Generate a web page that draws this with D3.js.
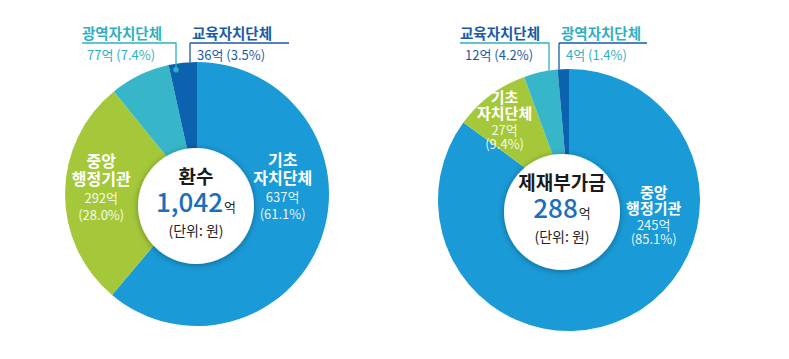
<!DOCTYPE html>
<html>
<head>
<meta charset="utf-8">
<script src="https://cdn.jsdelivr.net/npm/d3@7"></script>
<style>
  html, body { margin: 0; padding: 0; background: #fff; }
  svg { display: block; font-family: "Noto Sans CJK KR", "Noto Sans", sans-serif; }
</style>
</head>
<body>
<svg id="chart" width="789" height="359"></svg>
<script>
// left donut: 환수
const refundNames = ["기초\n자치단체", "중앙\n행정기관", "광역자치단체", "교육자치단체"];
const refundValues = [637, 292, 77, 36];
const refundPercents = [61.1, 28.0, 7.4, 3.5];
const refundColors = ["#1a9ad7", "#a5c83a", "#36b6c8", "#0b62ae"];

// right donut: 제재부가금
const penaltyNames = ["중앙\n행정기관", "기초\n자치단체", "교육자치단체", "광역자치단체"];
const penaltyValues = [245, 27, 12, 4];
const penaltyPercents = [85.1, 9.4, 4.2, 1.4];
const penaltyColors = ["#1a9ad7", "#a5c83a", "#36b6c8", "#0b62ae"];

const tealText = "#2fb0c2";
const darkText = "#1a5aa6";

const charts = [
  {
    title: "환수", total: "1,042",
    names: refundNames, values: refundValues, pcts: refundPercents, colors: refundColors,
    cx: 197, cy: 194, r: 132, hole: { dx: -1, dy: 12, r: 58 },
    // inside labels: polar [angle deg clockwise from top, radius]
    inside: { 0: [85, 86], 1: [-86, 96] },
    insideGap: [18, 18, 17],
    // callouts: title x, line end x (vertical), label colour, line colour
    callouts: {
      2: { x: 82, lineTo: 176, text: tealText, line: tealText, dot: true, anchorLeft: false },
      3: { x: 190, lineTo: 289, text: darkText, line: darkText, dot: false, anchorLeft: true }
    }
  },
  {
    title: "제재부가금", total: "288",
    names: penaltyNames, values: penaltyValues, pcts: penaltyPercents, colors: penaltyColors,
    cx: 569, cy: 200, r: 131, hole: { dx: -7, dy: 12, r: 58 },
    inside: { 0: [100, 86], 1: [-38.7, 103] },
    insideGap: [16, 16, 14],
    callouts: {
      2: { x: 460, lineTo: 549, text: darkText, line: tealText, dot: false, anchorLeft: false },
      3: { x: 559, lineTo: 647, text: tealText, line: darkText, dot: false, anchorLeft: true }
    }
  }
];

const svg = d3.select("#chart");

const defs = svg.append("defs");
const shadow = defs.append("filter").attr("id", "holeShadow")
  .attr("x", "-30%").attr("y", "-30%").attr("width", "160%").attr("height", "160%");
shadow.append("feDropShadow")
  .attr("dx", 0).attr("dy", 1).attr("stdDeviation", 3)
  .attr("flood-color", "#000").attr("flood-opacity", 0.35);

const pie = d3.pie().sort(null).value((d) => d.value);

charts.forEach((c) => {
  const rows = c.values.map((v, i) => ({
    name: c.names[i], value: v, pct: c.pcts[i], color: c.colors[i], i
  }));
  const arcs = pie(rows);
  const arc = d3.arc().innerRadius(0).outerRadius(c.r);

  const g = svg.append("g").attr("transform", `translate(${c.cx},${c.cy})`);

  g.selectAll("path.slice")
    .data(arcs)
    .join("path")
    .attr("class", "slice")
    .attr("d", arc)
    .attr("fill", (d) => d.data.color);

  // white centre
  g.append("circle")
    .attr("cx", c.hole.dx).attr("cy", c.hole.dy).attr("r", c.hole.r)
    .attr("fill", "#fff")
    .attr("filter", "url(#holeShadow)");

  const hx = c.hole.dx;
  const hy = c.hole.dy;
  g.append("text")
    .attr("x", hx).attr("y", hy - 22)
    .attr("text-anchor", "middle")
    .attr("font-size", 19).attr("font-weight", 700).attr("fill", "#1a1a1a")
    .text(c.title);
  const tot = g.append("text")
    .attr("x", hx).attr("y", hy + 6)
    .attr("text-anchor", "middle")
    .attr("fill", "#1b6fbd");
  tot.append("tspan").attr("font-size", 26).attr("font-weight", 500).text(c.total);
  tot.append("tspan").attr("font-size", 13).attr("fill", "#222").attr("dx", 1).text("억");
  g.append("text")
    .attr("x", hx).attr("y", hy + 30)
    .attr("text-anchor", "middle")
    .attr("font-size", 14).attr("fill", "#222")
    .text("(단위: 원)");

  // labels inside the big slices
  arcs.forEach((d) => {
    const pos = c.inside[d.index];
    if (!pos) return;
    const a = (pos[0] * Math.PI) / 180;
    const x = Math.sin(a) * pos[1];
    const y = -Math.cos(a) * pos[1];
    const lines = d.data.name.split("\n");
    const t = g.append("text").attr("text-anchor", "middle").attr("fill", "#fff");
    const gap = c.insideGap;
    const all = [
      { s: lines[0], bold: true },
      { s: lines[1], bold: true },
      { s: `${d.data.value}억`, bold: false },
      { s: `(${d.data.pct.toFixed(1)}%)`, bold: false }
    ];
    let yy = y - (gap[0] + gap[1] + gap[2]) / 2 + 6;
    all.forEach((ln, k) => {
      t.append("tspan")
        .attr("x", x).attr("y", yy)
        .attr("font-size", ln.bold ? (c.insideGap[0] > 16 ? 16 : 15) : 13)
        .attr("font-weight", ln.bold ? 700 : 400)
        .attr("fill-opacity", ln.bold ? 1 : 0.92)
        .text(ln.s);
      if (k < 3) yy += gap[k];
    });
  });

  // callouts above the chart for small slices
  arcs.forEach((d) => {
    const co = c.callouts[d.index];
    if (!co) return;
    const x0 = co.x - c.cx;
    const lineY = 43 - c.cy;
    const vx = co.anchorLeft ? x0 : co.lineTo - c.cx;
    const edgeY = -Math.sqrt(c.r * c.r - vx * vx);
    const endY = co.dot ? edgeY + 6 : edgeY;
    g.append("path")
      .attr("d", `M${x0},${lineY}H${co.lineTo - c.cx}`
        + (co.anchorLeft ? `M${x0},${lineY}V${endY}` : `V${endY}`))
      .attr("fill", "none")
      .attr("stroke", co.line)
      .attr("stroke-width", 1.3);
    if (co.dot) {
      g.append("circle")
        .attr("cx", vx).attr("cy", endY).attr("r", 2.8)
        .attr("fill", co.line);
    }
    const tx = co.anchorLeft ? x0 + 2 : x0;
    g.append("text")
      .attr("x", tx).attr("y", 39 - c.cy)
      .attr("font-size", 14.5).attr("font-weight", 700).attr("fill", co.text)
      .text(d.data.name);
    g.append("text")
      .attr("x", tx + (co.anchorLeft ? 5 : 5)).attr("y", 60 - c.cy)
      .attr("font-size", 13).attr("fill", co.text)
      .text(`${d.data.value}억 (${d.data.pct.toFixed(1)}%)`);
  });
});
</script>
</body>
</html>
